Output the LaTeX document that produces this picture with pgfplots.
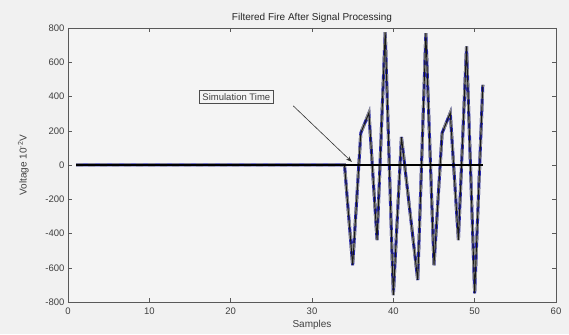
\documentclass[border=0pt]{standalone}
\usepackage{pgfplots}
\pgfplotsset{compat=1.18}
\usetikzlibrary{arrows.meta}
\usepackage{fontspec}
\setmainfont{Liberation Sans}
\definecolor{figbg}{RGB}{241,241,241}
\definecolor{axbg}{RGB}{244,244,244}
\definecolor{sigblue}{RGB}{40,40,170}
\pgfplotstableread{
x y
1 0
5 0
10 0
15 0
20 0
25 0
30 0
33 0
34 0
35 -585
36 187
37 304
38 -438
39 775
40 -760
41 164
42 -254
43 -672
44 770
45 -585
46 187
47 304
48 -438
49 692
50 -750
51 468
}\sig
\begin{document}
\begin{tikzpicture}[x=1pt,y=1pt]
\fill[figbg] (-68,-32) rectangle (501,302);
\useasboundingbox (-68,-32) rectangle (501,302);
\begin{axis}[
  scale only axis, width=488pt, height=274pt,
  xmin=0, xmax=60, ymin=-800, ymax=800,
  xtick={0,10,...,60}, ytick={-800,-600,...,800},
  tick align=inside, major tick length=4pt,
  axis background/.style={fill=axbg},
  axis line style={draw=black!65, line width=0.8pt},
  every tick/.style={black!65},
  tick label style={font=\fontsize{9.5}{11}\selectfont, text=black!75},
  xticklabel style={yshift=-2pt},
  /pgf/number format/assume math mode=true,
  title={Filtered Fire After Signal Processing},
  title style={font=\fontsize{10}{12}\selectfont, text=black!85, yshift=-4pt},
  xlabel={Samples},
  xlabel style={font=\fontsize{10}{12}\selectfont, text=black!75, yshift=1pt},
  ylabel={Voltage 10\textsuperscript{-2}V},
  ylabel style={font=\fontsize{10}{12}\selectfont, text=black!75, yshift=10pt},
]
\addplot[sigblue, line width=3pt] table {\sig};
\addplot[black!45, line width=3pt, dash pattern=on 7pt off 5pt] table {\sig};
\addplot[black!90, line width=0.9pt] table {\sig};
\addplot[black, line width=1.6pt] coordinates {(1,0) (51,0)};
\node[draw=black!70, fill=axbg, font=\fontsize{9.5}{11}\selectfont, text=black!75, inner sep=3pt, line width=0.7pt] (st) at (axis cs:20.7,398) {Simulation Time};
\draw[black!80, -{Stealth[length=6pt]}, line width=0.6pt] (axis cs:27.7,345) -- (axis cs:34.9,18);
\end{axis}
\end{tikzpicture}
\end{document}
